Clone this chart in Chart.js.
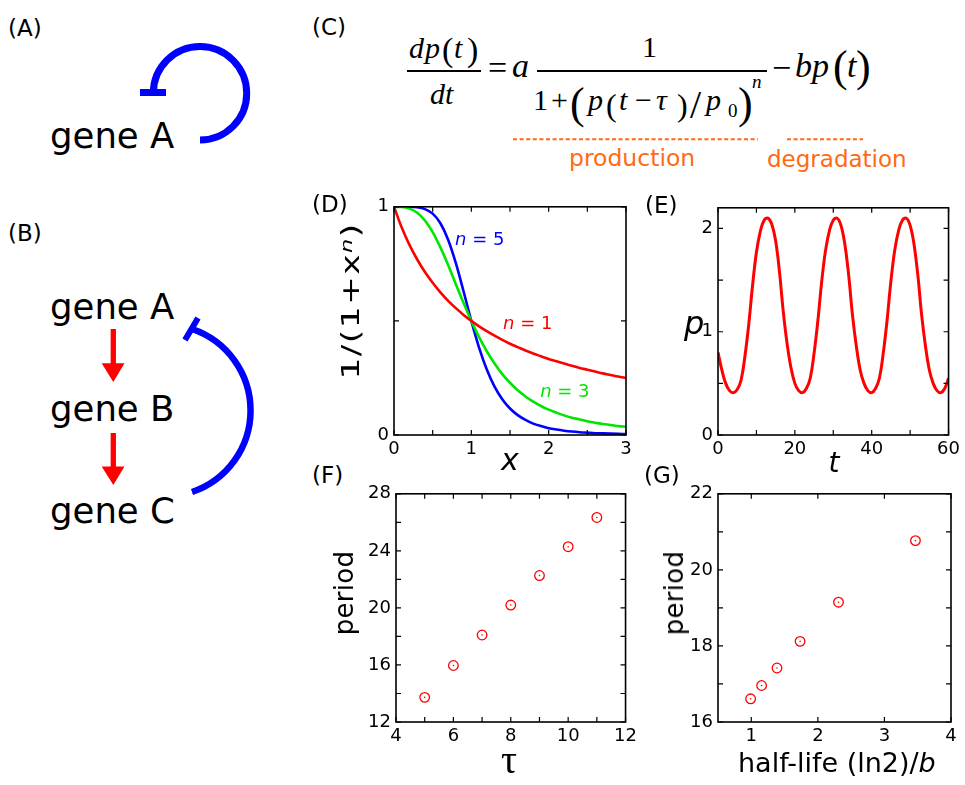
<!DOCTYPE html>
<html>
<head>
<meta charset="utf-8">
<script src="https://cdn.jsdelivr.net/npm/chart.js@4.4.1/dist/chart.umd.min.js"></script>
<style>
  html, body { margin: 0; padding: 0; background: #fff; }
  #fig { position: relative; width: 965px; height: 785px; overflow: hidden; font-family: "DejaVu Sans", sans-serif; color: #000; }
  .t { position: absolute; white-space: nowrap; line-height: 1; }
  .s { font-family: "Liberation Serif", serif; }
  .i { font-style: italic; }
  .bar { position: absolute; height: 1.5px; background: #000; }
  .rot { position: absolute; white-space: nowrap; line-height: 1; }
  canvas { position: absolute; }
  svg { position: absolute; left: 0; top: 0; }
</style>
</head>
<body>
<div id="fig">
  <!-- diagrams A and B, dashed underlines of the equation -->
  <svg width="965" height="785">
    <path d="M 200 140 A 46.7 46.7 0 1 0 153.3 93" fill="none" stroke="#0000ff" stroke-width="7"/>
    <line x1="140" y1="92.5" x2="166" y2="92.5" stroke="#0000ff" stroke-width="7"/>
    <path d="M 192 492 A 86 86 0 0 0 192 329" fill="none" stroke="#0000ff" stroke-width="6.5"/>
    <line x1="185" y1="340" x2="198" y2="318" stroke="#0000ff" stroke-width="6"/>
    <line x1="113.3" y1="329" x2="113.3" y2="366" stroke="#ff0000" stroke-width="5.3"/>
    <polygon points="101.7,363.3 124.5,363.3 113.3,382" fill="#ff0000"/>
    <line x1="113.3" y1="433" x2="113.3" y2="469" stroke="#ff0000" stroke-width="5.3"/>
    <polygon points="101.7,466.5 124.5,466.5 113.3,485" fill="#ff0000"/>
    <line x1="513" y1="139.3" x2="758" y2="139.3" stroke="#ff6a13" stroke-width="2" stroke-dasharray="4 2.6"/>
    <line x1="787" y1="139.3" x2="863" y2="139.3" stroke="#ff6a13" stroke-width="2" stroke-dasharray="4 2.6"/>
  </svg>

  <canvas id="chartD"></canvas>
  <canvas id="chartE"></canvas>
  <canvas id="chartF"></canvas>
  <canvas id="chartG"></canvas>

  <!-- panel letters -->
  <div class="t" style="left:8px;top:16.5px;font-size:23px">(A)</div>
  <div class="t" style="left:8px;top:222.2px;font-size:23px">(B)</div>
  <div class="t" style="left:312px;top:15.5px;font-size:23px">(C)</div>
  <div class="t" style="left:312px;top:192.5px;font-size:23px">(D)</div>
  <div class="t" style="left:645px;top:193.5px;font-size:23px">(E)</div>
  <div class="t" style="left:312px;top:463.5px;font-size:23px">(F)</div>
  <div class="t" style="left:644px;top:463.5px;font-size:23px">(G)</div>

  <!-- gene labels -->
  <div class="t" style="left:50px;top:118px;font-size:35.5px">gene A</div>
  <div class="t" style="left:50px;top:289px;font-size:35.5px">gene A</div>
  <div class="t" style="left:50px;top:391.4px;font-size:35.5px">gene B</div>
  <div class="t" style="left:50px;top:493px;font-size:35.5px">gene C</div>

  <!-- equation (C) -->
  <span class="t s i" style="left:409px;top:32.9px;font-size:30px">d</span>
  <span class="t s i" style="left:425px;top:32.9px;font-size:30px">p</span>
  <span class="t s" style="left:442px;top:32.6px;font-size:34px">(</span>
  <span class="t s i" style="left:454px;top:32.9px;font-size:30px">t</span>
  <span class="t s" style="left:467px;top:32.6px;font-size:34px">)</span>
  <div class="bar" style="left:407px;top:70px;width:74px"></div>
  <span class="t s i" style="left:430px;top:78.9px;font-size:30px">d</span>
  <span class="t s i" style="left:445px;top:78.9px;font-size:30px">t</span>
  <span class="t s" style="left:488px;top:50.5px;font-size:34px">=</span>
  <span class="t s i" style="left:512px;top:48.5px;font-size:34px">a</span>
  <div class="bar" style="left:536.7px;top:70px;width:230px"></div>
  <span class="t s" style="left:642px;top:31.9px;font-size:30px">1</span>
  <span class="t s" style="left:533px;top:84.9px;font-size:30px">1</span>
  <span class="t s" style="left:551px;top:84.9px;font-size:30px">+</span>
  <span class="t s" style="left:570px;top:82.2px;font-size:44px">(</span>
  <span class="t s i" style="left:588px;top:84.9px;font-size:30px">p</span>
  <span class="t s" style="left:606px;top:89.2px;font-size:32px">(</span>
  <span class="t s i" style="left:619px;top:84.9px;font-size:30px">t</span>
  <span class="t s" style="left:635px;top:84.9px;font-size:30px">−</span>
  <span class="t s i" style="left:656px;top:84.9px;font-size:30px">τ</span>
  <span class="t s" style="left:677px;top:89.2px;font-size:32px">)</span>
  <span class="t s" style="left:690px;top:84.5px;font-size:40px">/</span>
  <span class="t s i" style="left:706px;top:84.9px;font-size:30px">p</span>
  <span class="t s" style="left:728px;top:101.1px;font-size:19px">0</span>
  <span class="t s" style="left:738px;top:82.2px;font-size:44px">)</span>
  <span class="t s i" style="left:752px;top:72.1px;font-size:19px">n</span>
  <span class="t s" style="left:772px;top:50.5px;font-size:34px">−</span>
  <span class="t s i" style="left:795px;top:48.5px;font-size:34px">b</span>
  <span class="t s i" style="left:812px;top:48.5px;font-size:34px">p</span>
  <span class="t s" style="left:833px;top:45.2px;font-size:44px">(</span>
  <span class="t s i" style="left:847px;top:48.5px;font-size:34px">t</span>
  <span class="t s" style="left:856px;top:45.2px;font-size:44px">)</span>
  <div class="t" style="left:569px;top:147.1px;font-size:23.5px;color:#ff6a13">production</div>
  <div class="t" style="left:767px;top:147.5px;font-size:23px;color:#ff6a13">degradation</div>

  <!-- axis titles -->
  <div class="rot" style="left:350px;top:301px;font-size:25px;letter-spacing:1px;transform:translate(-50%,-50%) rotate(-90deg) scaleX(1.38)">1/(1+x<span class="i" style="position:relative;top:-0.45em;font-size:0.65em">n</span>)</div>
  <div class="t i" style="left:394px;width:232px;text-align:center;top:444.6px;font-size:30px">x</div>
  <div class="t i" style="left:684px;top:306.9px;font-size:32px">p</div>
  <div class="t i" style="left:718px;width:232px;text-align:center;top:449.3px;font-size:28px">t</div>
  <div class="rot" style="left:343.8px;top:592.5px;font-size:26px;letter-spacing:0.3px;transform:translate(-50%,-50%) rotate(-90deg)">period</div>
  <div class="t s" style="left:396px;width:226px;text-align:center;top:739.5px;font-size:40px">τ</div>
  <div class="rot" style="left:673.5px;top:592.5px;font-size:26px;letter-spacing:0.3px;transform:translate(-50%,-50%) rotate(-90deg)">period</div>
  <div class="t" style="left:738px;top:749.2px;font-size:27px">half-life (ln2)/<span class="i">b</span></div>
</div>

<script>
// ---- (D) repression function 1/(1+x^n)
const dX = [0, 0.1, 0.2, 0.3, 0.4, 0.5, 0.6, 0.7, 0.8, 0.9, 1.0, 1.1, 1.2, 1.3, 1.4, 1.5,
            1.6, 1.7, 1.8, 1.9, 2.0, 2.1, 2.2, 2.3, 2.4, 2.5, 2.6, 2.7, 2.8, 2.9, 3.0];
const dN1 = [1.000, 0.909, 0.833, 0.769, 0.714, 0.667, 0.625, 0.588, 0.556, 0.526, 0.500,
             0.476, 0.455, 0.435, 0.417, 0.400, 0.385, 0.370, 0.357, 0.345, 0.333,
             0.323, 0.313, 0.303, 0.294, 0.286, 0.278, 0.270, 0.263, 0.256, 0.250];
const dN3 = [1.000, 0.999, 0.992, 0.974, 0.940, 0.889, 0.822, 0.745, 0.661, 0.578, 0.500,
             0.429, 0.367, 0.313, 0.267, 0.229, 0.196, 0.169, 0.146, 0.127, 0.111,
             0.098, 0.086, 0.076, 0.068, 0.060, 0.054, 0.048, 0.044, 0.039, 0.036];
const dN5 = [1.000, 1.000, 1.000, 0.998, 0.990, 0.970, 0.928, 0.856, 0.753, 0.629, 0.500,
             0.383, 0.287, 0.212, 0.157, 0.116, 0.087, 0.066, 0.050, 0.039, 0.030,
             0.024, 0.019, 0.015, 0.012, 0.010, 0.008, 0.007, 0.006, 0.005, 0.004];
const dTickX = [0, 0.5, 1, 1.5, 2, 2.5, 3];
const dLabelX = ['0', '', '1', '', '2', '', '3'];
const dTickY = [0, 0.5, 1];
const dLabelY = ['0', '', '1'];
const dNotes = [
  { n: '5', x: 0.79, y: 0.855, color: '#0000ff' },
  { n: '1', x: 1.41, y: 0.483, color: '#ff0000' },
  { n: '3', x: 1.89, y: 0.185, color: '#00e600' }
];

// ---- (E) simulated p(t)
const eT = [0, 1, 2, 3, 4, 5, 6, 7, 8, 9, 10, 11, 12, 13, 14, 15, 16, 17, 18, 19, 20,
            21, 22, 23, 24, 25, 26, 27, 28, 29, 30, 31, 32, 33, 34, 35, 36, 37, 38, 39, 40,
            41, 42, 43, 44, 45, 46, 47, 48, 49, 50, 51, 52, 53, 54, 55, 56, 57, 58, 59, 60];
const eP = [0.80, 0.63, 0.50, 0.43, 0.41, 0.44, 0.53, 0.76, 1.07, 1.45, 1.77, 1.97, 2.08, 2.10,
            2.04, 1.88, 1.58, 1.19, 0.88, 0.65, 0.50, 0.43, 0.41, 0.45, 0.55, 0.79, 1.11, 1.49,
            1.79, 1.98, 2.08, 2.10, 2.03, 1.85, 1.55, 1.16, 0.86, 0.63, 0.50, 0.43, 0.41, 0.45,
            0.55, 0.79, 1.11, 1.49, 1.79, 1.98, 2.08, 2.10, 2.03, 1.85, 1.55, 1.16, 0.86, 0.63,
            0.50, 0.43, 0.41, 0.45, 0.55];
const eTickX = [0, 10, 20, 30, 40, 50, 60];
const eLabelX = ['0', '', '20', '', '40', '', '60'];
const eTickY = [0, 0.5, 1, 1.5, 2];
const eLabelY = ['0', '', '1', '', '2'];

// ---- (F) period vs delay tau
const fTau = [5, 6, 7, 8, 9, 10, 11];
const fPeriod = [13.73, 15.96, 18.10, 20.20, 22.27, 24.29, 26.34];
const fTickX = [4, 5, 6, 7, 8, 9, 10, 11, 12];
const fLabelX = ['4', '', '6', '', '8', '', '10', '', '12'];
const fTickY = [12, 14, 16, 18, 20, 22, 24, 26, 28];
const fLabelY = ['12', '', '16', '', '20', '', '24', '', '28'];

// ---- (G) period vs half-life
const gHalfLife = [0.99, 1.155, 1.386, 1.733, 2.31, 3.466];
const gPeriod = [16.61, 16.96, 17.42, 18.12, 19.15, 20.77];
const gTickX = [1, 2, 3, 4];
const gLabelX = ['1', '2', '3', '4'];
const gTickY = [16, 17, 18, 19, 20, 21, 22];
const gLabelY = ['16', '', '18', '', '20', '', '22'];

Chart.defaults.font.family = '"DejaVu Sans", sans-serif';
Chart.defaults.color = '#000';

const yW = 40, xH = 30, padT = 12, padR = 14;

// frame box and inward tick marks on all four sides
const boxTicks = {
  id: 'boxTicks',
  afterDraw(chart) {
    const { ctx, chartArea: a, scales } = chart;
    ctx.save();
    ctx.strokeStyle = '#000';
    ctx.lineWidth = 1.2;
    ctx.beginPath();
    scales.x.ticks.forEach(t => {
      const px = scales.x.getPixelForValue(t.value);
      ctx.moveTo(px, a.bottom); ctx.lineTo(px, a.bottom - 5);
      ctx.moveTo(px, a.top); ctx.lineTo(px, a.top + 5);
    });
    scales.y.ticks.forEach(t => {
      const py = scales.y.getPixelForValue(t.value);
      ctx.moveTo(a.left, py); ctx.lineTo(a.left + 5, py);
      ctx.moveTo(a.right, py); ctx.lineTo(a.right - 5, py);
    });
    ctx.stroke();
    ctx.lineWidth = 1.6;
    ctx.strokeRect(a.left, a.top, a.width, a.height);
    ctx.restore();
  }
};

const curveNotes = {
  id: 'curveNotes',
  afterDatasetsDraw(chart) {
    const { ctx, scales: { x, y } } = chart;
    ctx.save();
    ctx.textBaseline = 'middle';
    dNotes.forEach(nt => {
      let px = x.getPixelForValue(nt.x);
      const py = y.getPixelForValue(nt.y);
      ctx.fillStyle = nt.color;
      ctx.font = 'italic 18px "DejaVu Sans"';
      ctx.fillText('n', px, py);
      px += ctx.measureText('n').width;
      ctx.font = '18px "DejaVu Sans"';
      ctx.fillText(' = ' + nt.n, px, py);
    });
    ctx.restore();
  }
};

function axis(min, max, ticks, labels, isY) {
  return {
    type: 'linear',
    min, max,
    grid: { display: false, drawTicks: false },
    border: { display: false },
    ticks: {
      padding: isY ? 5 : 4,
      autoSkip: false,
      maxRotation: 0,
      color: '#000',
      font: { family: '"DejaVu Sans", sans-serif', size: 18 },
      callback: (v, i) => labels[i]
    },
    afterBuildTicks: s => { s.ticks = ticks.map(v => ({ value: v })); },
    afterFit: s => { if (isY) s.width = yW; else s.height = xH; }
  };
}

function xy(xs, ys) {
  return xs.map((x, i) => ({ x, y: ys[i] }));
}

function panel(id, left, top, w, h, datasets, x, y, extra) {
  const c = document.getElementById(id);
  c.width = yW + w + padR;
  c.height = padT + h + xH;
  c.style.left = (left - yW) + 'px';
  c.style.top = (top - padT) + 'px';
  return new Chart(c, {
    type: 'scatter',
    data: { datasets },
    options: {
      responsive: false,
      animation: false,
      events: [],
      layout: { padding: { top: padT, right: padR, left: 0, bottom: 0 } },
      plugins: { legend: { display: false }, tooltip: { enabled: false } },
      scales: { x, y }
    },
    plugins: [boxTicks].concat(extra || [])
  });
}

function curve(data, color, width) {
  return {
    data, showLine: true, borderColor: color, borderWidth: width,
    pointRadius: 0, cubicInterpolationMode: 'monotone', fill: false
  };
}

panel('chartD', 394, 203, 232, 232, [
  curve(xy(dX, dN1), '#ff0000', 2.6),
  curve(xy(dX, dN3), '#00e600', 2.6),
  curve(xy(dX, dN5), '#0000ff', 2.6)
], axis(0, 3, dTickX, dLabelX, false), axis(0, 1, dTickY, dLabelY, true), [curveNotes]);

panel('chartE', 718, 204, 232, 231, [
  { data: xy(eT, eP), showLine: true, borderColor: '#ff0000', borderWidth: 3, pointRadius: 0, tension: 0.4, fill: false }
], axis(0, 60, eTickX, eLabelX, false), axis(0, 2.2, eTickY, eLabelY, true));

function rings(xs, ys) {
  return [
    { data: xy(xs, ys), pointRadius: 4.8, borderWidth: 1.3, borderColor: '#ff0000', backgroundColor: 'rgba(0,0,0,0)' },
    { data: xy(xs, ys), pointRadius: 0.8, borderWidth: 0, backgroundColor: '#ff0000' }
  ];
}

panel('chartF', 396, 490, 231, 232, rings(fTau, fPeriod),
  axis(4, 12, fTickX, fLabelX, false), axis(12, 28, fTickY, fLabelY, true));

panel('chartG', 718, 490, 233, 232, rings(gHalfLife, gPeriod),
  axis(0.5, 4, gTickX, gLabelX, false), axis(16, 22, gTickY, gLabelY, true));
</script>
</body>
</html>
